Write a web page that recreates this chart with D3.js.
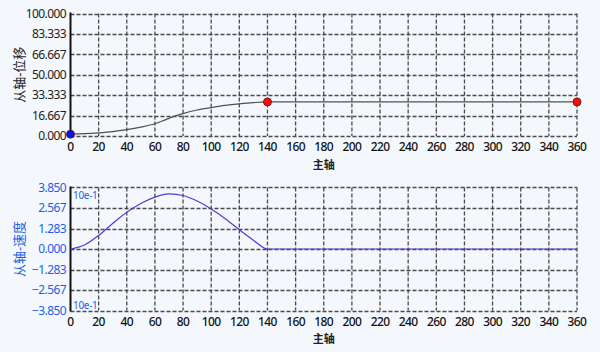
<!DOCTYPE html>
<html>
<head>
<meta charset="utf-8">
<script src="https://cdn.jsdelivr.net/npm/d3@7"></script>
<style>
  html, body { margin: 0; padding: 0; background: #f4f8fd; }
  svg { display: block; }
</style>
</head>
<body>
<div id="chart"></div>
<script>
// Data
var xTicks = d3.range(0, 361, 20);
var dispX = [0, 10, 20, 30, 40, 50, 60, 67, 73, 80, 90, 100, 110, 120, 130, 140, 360];
var dispY = [1.5, 1.9, 2.6, 3.6, 5.2, 7.3, 10.0, 13.0, 15.8, 18.3, 21.2, 23.2, 25.0, 26.3, 27.3, 27.8, 27.8];
var velX = [0, 10, 20, 30, 40, 50, 60, 70, 80, 90, 100, 110, 120, 130, 140, 360];
var velY = [0, 0.25, 0.85, 1.6, 2.3, 2.85, 3.25, 3.45, 3.35, 3.0, 2.5, 1.9, 1.2, 0.55, 0, 0];
var dispMarks = [{x: 0, y: 1.5, c: "#0a14f0"}, {x: 140, y: 27.8, c: "#ff0a0a"}, {x: 360, y: 27.8, c: "#ff0a0a"}];

var W = 600, H = 352,
    left = 70.5, right = 577,
    font = "'Noto Sans', 'Noto Sans CJK SC', sans-serif",
    blue = "#1f5fe0",
    grid = "#4a4a4a";

var svg = d3.select("#chart").append("svg")
  .attr("width", W)
  .attr("height", H);

var x = d3.scaleLinear().domain([0, 360]).range([left, right]);
var fmt = d3.format(".3f");
function lab(v) { var s = fmt(v); return s == "-0.000" ? "0.000" : s; }

function panel(cfg) {
  var y = d3.scaleLinear().domain(cfg.domain).range([cfg.bottom, cfg.top]);
  var g = svg.append("g");
  var step = (cfg.domain[1] - cfg.domain[0]) / 6;
  var yTicks = d3.range(7).map(function(i) { return cfg.domain[0] + i * step; });

  // dashed grid
  g.selectAll(".hg").data(yTicks).enter().append("line")
    .attr("x1", left).attr("x2", right)
    .attr("y1", function(d) { return Math.round(y(d)) + 0.5; })
    .attr("y2", function(d) { return Math.round(y(d)) + 0.5; })
    .attr("stroke", grid).attr("stroke-width", 1.3)
    .attr("stroke-dasharray", "4,2");
  g.selectAll(".vg").data(xTicks.slice(1)).enter().append("line")
    .attr("x1", function(d) { return x(d); }).attr("x2", function(d) { return x(d); })
    .attr("y1", cfg.top).attr("y2", cfg.bottom)
    .attr("stroke", grid).attr("stroke-width", 1.3)
    .attr("stroke-dasharray", "4,2");

  // left solid axis
  g.append("line")
    .attr("x1", left).attr("x2", left)
    .attr("y1", cfg.top - 1).attr("y2", cfg.bottom + 1)
    .attr("stroke", "#111").attr("stroke-width", 2);

  // y labels
  g.selectAll(".yl").data(yTicks).enter().append("text")
    .attr("x", 66).attr("y", function(d) { return y(d); })
    .attr("dy", "0.35em")
    .attr("text-anchor", "end")
    .attr("font-family", font).attr("font-size", "12px")
    .attr("letter-spacing", "-0.6px")
    .attr("fill", cfg.labColor)
    .text(lab);

  // x labels
  g.selectAll(".xl").data(xTicks).enter().append("text")
    .attr("x", function(d) { return x(d); }).attr("y", cfg.bottom + 11)
    .attr("dy", "0.35em")
    .attr("text-anchor", "middle")
    .attr("font-family", font).attr("font-size", "12px")
    .attr("font-weight", 500)
    .attr("letter-spacing", "-0.6px")
    .attr("fill", "#111")
    .text(function(d) { return d; });

  // axis titles
  g.append("text")
    .attr("transform", "translate(19," + ((cfg.top + cfg.bottom) / 2) + ") rotate(-90)")
    .attr("dy", "0.35em")
    .attr("text-anchor", "middle")
    .attr("font-family", font).attr("font-size", "13px")
    .attr("fill", cfg.titleColor)
    .text(cfg.title);
  g.append("text")
    .attr("x", (left + right) / 2).attr("y", cfg.bottom + 29)
    .attr("dy", "0.35em")
    .attr("text-anchor", "middle")
    .attr("font-family", font).attr("font-size", "11px")
    .attr("font-weight", 700)
    .attr("fill", "#222")
    .text("主轴");

  // series line
  var line = d3.line()
    .x(function(d) { return x(d[0]); })
    .y(function(d) { return y(d[1]); })
    .curve(d3.curveMonotoneX);
  g.append("path")
    .datum(d3.zip(cfg.xs, cfg.ys))
    .attr("d", line)
    .attr("fill", "none")
    .attr("stroke", cfg.lineColor)
    .attr("stroke-width", 1.2);

  return {g: g, y: y};
}

var dispPanel = panel({domain: [0, 100], top: 13.5, bottom: 136, xs: dispX, ys: dispY,
  labColor: "#222", titleColor: "#222", title: "从轴-位移", lineColor: "#505050"});

dispPanel.g.selectAll(".dot").data(dispMarks).enter().append("circle")
  .attr("cx", function(d) { return x(d.x); })
  .attr("cy", function(d) { return dispPanel.y(d.y); })
  .attr("r", 4)
  .attr("fill", function(d) { return d.c; })
  .attr("stroke", "#5a1010").attr("stroke-width", 0.8);

var velPanel = panel({domain: [-3.85, 3.85], top: 187.5, bottom: 310.5, xs: velX, ys: velY,
  labColor: blue, titleColor: blue, title: "从轴-速度", lineColor: "#4b3fd2"});

velPanel.g.selectAll(".unit").data([195.5, 305]).enter().append("text")
  .attr("x", 73).attr("y", function(d) { return d; })
  .attr("dy", "0.35em")
  .attr("font-family", font).attr("font-size", "10px")
  .attr("letter-spacing", "-0.3px")
  .attr("fill", blue)
  .text("10e-1");
</script>
</body>
</html>
